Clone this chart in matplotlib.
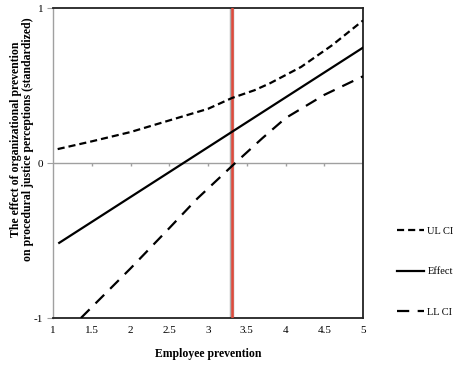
import matplotlib
matplotlib.use("Agg")
import matplotlib.pyplot as plt

plt.rcParams['font.family'] = ['Liberation Serif', 'DejaVu Serif']
plt.rcParams['axes.unicode_minus'] = False

# values
effect_x = [1.08, 5.0]
effect_y = [-0.515, 0.745]

ul_x = [1.06, 1.5, 2.0, 2.5, 3.0, 3.31, 3.6, 3.8, 4.2, 4.6, 5.0]
ul_y = [0.09, 0.14, 0.20, 0.275, 0.35, 0.42, 0.47, 0.515, 0.62, 0.76, 0.92]

ll_x = [1.36, 2.0, 2.5, 2.86, 3.35, 3.7, 4.0, 4.5, 5.0]
ll_y = [-1.0, -0.68, -0.42, -0.23, 0.0, 0.16, 0.29, 0.44, 0.56]

cut_x = 3.31
xticks = [1, 1.5, 2, 2.5, 3, 3.5, 4, 4.5, 5]
yticks = [-1, 0, 1]

fig = plt.figure(figsize=(4.59, 3.67), dpi=100)
ax = fig.add_axes([0.1155, 0.1335, 0.6755, 0.8445])

ax.axhline(0, color='#a0a0a0', lw=1.0, zorder=1)
ax.vlines(xticks[1:-1], -0.022, 0, color='#a0a0a0', lw=1.0, zorder=1)

ax.axvline(cut_x, color='#b0b0b0', lw=3.2, zorder=2)
ax.axvline(cut_x, color='#e04a3c', lw=1.8, zorder=3)

ax.plot(ul_x, ul_y, color='black', lw=1.6, dashes=(3.2, 1.8), label='UL CI', zorder=4)
ax.plot(effect_x, effect_y, color='black', lw=1.6, label='Effect', zorder=4)
ax.plot(ll_x, ll_y, color='black', lw=1.6, dashes=(5.5, 3.8), label='LL CI', zorder=4)

ax.set_xlim(1, 5)
ax.set_ylim(-1, 1)
ax.set_xticks(xticks)
ax.set_xticklabels(['1', '1.5', '2', '2.5', '3', '3.5', '4', '4.5', '5'])
ax.set_yticks(yticks)
ax.tick_params(axis='x', length=0, pad=6, labelsize=8)
ax.tick_params(axis='y', length=4, color='#a0a0a0', pad=3, labelsize=8)

for s in ['top', 'right', 'bottom']:
    ax.spines[s].set_color('#222222')
    ax.spines[s].set_linewidth(1.3)
ax.spines['left'].set_color('#a0a0a0')
ax.spines['left'].set_linewidth(1.0)

ax.set_xlabel('Employee prevention', fontsize=8.5, fontweight='bold', labelpad=9)
ax.set_ylabel('The effect of organizational prevention\non procedural justice perceptions (standardized)',
              fontsize=8.5, fontweight='bold', linespacing=1.1)
ax.yaxis.set_label_coords(-0.06, 0.577)

leg = fig.legend(loc='center left', bbox_to_anchor=(0.845, 0.26), frameon=False,
                 fontsize=7.5, handlelength=2.6, handletextpad=0.3, labelspacing=3.0)

fig.savefig('out.png', dpi=100)
